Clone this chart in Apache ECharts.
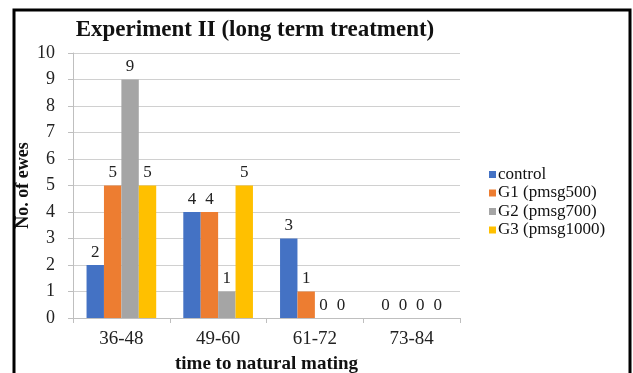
<!DOCTYPE html>
<html>
<head>
<meta charset="utf-8">
<script src="https://cdn.jsdelivr.net/npm/echarts@6/dist/echarts.min.js"></script>
<style>
  html, body { margin: 0; padding: 0; background: #fff; }
  #chart { width: 633px; height: 373px; }
</style>
</head>
<body>
<div id="chart"></div>
<script>
// categories on the x axis
const categories = ['36-48', '49-60', '61-72', '73-84']
// number of ewes per group
const seriesNames = ['control', 'G1 (pmsg500)', 'G2 (pmsg700)', 'G3 (pmsg1000)']
const controlValues = [2, 4, 3, 0]
const g1Values = [5, 4, 1, 0]
const g2Values = [9, 1, 0, 0]
const g3Values = [5, 5, 0, 0]
const colors = ['#4472C4', '#ED7D31', '#A5A5A5', '#FFC000']

const serif = '"Liberation Serif", "DejaVu Serif", serif'
const chart = echarts.init(document.getElementById('chart'))

const allValues = [controlValues, g1Values, g2Values, g3Values]
const series = seriesNames.map((name, i) => ({
  name,
  type: 'bar',
  data: allValues[i],
  barGap: '0%',
  barCategoryGap: '28%',
  itemStyle: { color: colors[i] },
  label: {
    show: true,
    position: 'top',
    distance: 4,
    color: '#222',
    fontFamily: serif,
    fontSize: 17
  }
}))

const option = {
  animation: false,
  backgroundColor: '#fff',
  // 外框
  graphic: [{
    type: 'rect',
    shape: { x: 14, y: 10, width: 616, height: 380 },
    style: { fill: 'none', stroke: '#000', lineWidth: 3 },
    silent: true
  }],
  title: {
    text: 'Experiment II (long term treatment)',
    left: 250,
    top: 14,
    textAlign: 'center',
    textStyle: {
      fontFamily: serif,
      fontWeight: 'bold',
      fontSize: 23,
      color: '#111'
    }
  },
  legend: {
    orient: 'vertical',
    left: 484,
    top: 161,
    itemWidth: 7,
    itemHeight: 7,
    itemGap: 1.5,
    icon: 'rect',
    textStyle: {
      fontFamily: serif,
      fontSize: 17,
      color: '#111',
      padding: [0, 0, 0, -3]
    },
    data: seriesNames
  },
  grid: {
    left: 73,
    right: 173,
    top: 53,
    bottom: 55,
    outerBoundsMode: 'none'
  },
  xAxis: {
    type: 'category',
    data: categories,
    name: 'time to natural mating',
    nameLocation: 'middle',
    nameGap: 37,
    nameMoveOverlap: false,
    nameTextStyle: {
      fontFamily: serif,
      fontWeight: 'bold',
      fontSize: 19,
      color: '#111'
    },
    axisLine: { lineStyle: { color: '#bfbfbf' } },
    axisTick: { show: true, length: 5, lineStyle: { color: '#bfbfbf' } },
    axisLabel: {
      fontFamily: serif,
      fontSize: 19,
      color: '#222',
      margin: 12
    }
  },
  yAxis: {
    type: 'value',
    min: 0,
    max: 10,
    interval: 1,
    name: 'No. of ewes',
    nameLocation: 'middle',
    nameGap: 41,
    nameMoveOverlap: false,
    nameTextStyle: {
      fontFamily: serif,
      fontWeight: 'bold',
      fontSize: 18,
      color: '#111'
    },
    axisLine: { show: true, lineStyle: { color: '#bfbfbf' } },
    axisTick: { show: true, length: 5, inside: false, lineStyle: { color: '#bfbfbf' } },
    splitLine: { lineStyle: { color: '#d0d0d0' } },
    axisLabel: {
      fontFamily: serif,
      fontSize: 18,
      color: '#222',
      margin: 18
    }
  },
  series
}

chart.setOption(option)
window.addEventListener('resize', chart.resize)
</script>
</body>
</html>
